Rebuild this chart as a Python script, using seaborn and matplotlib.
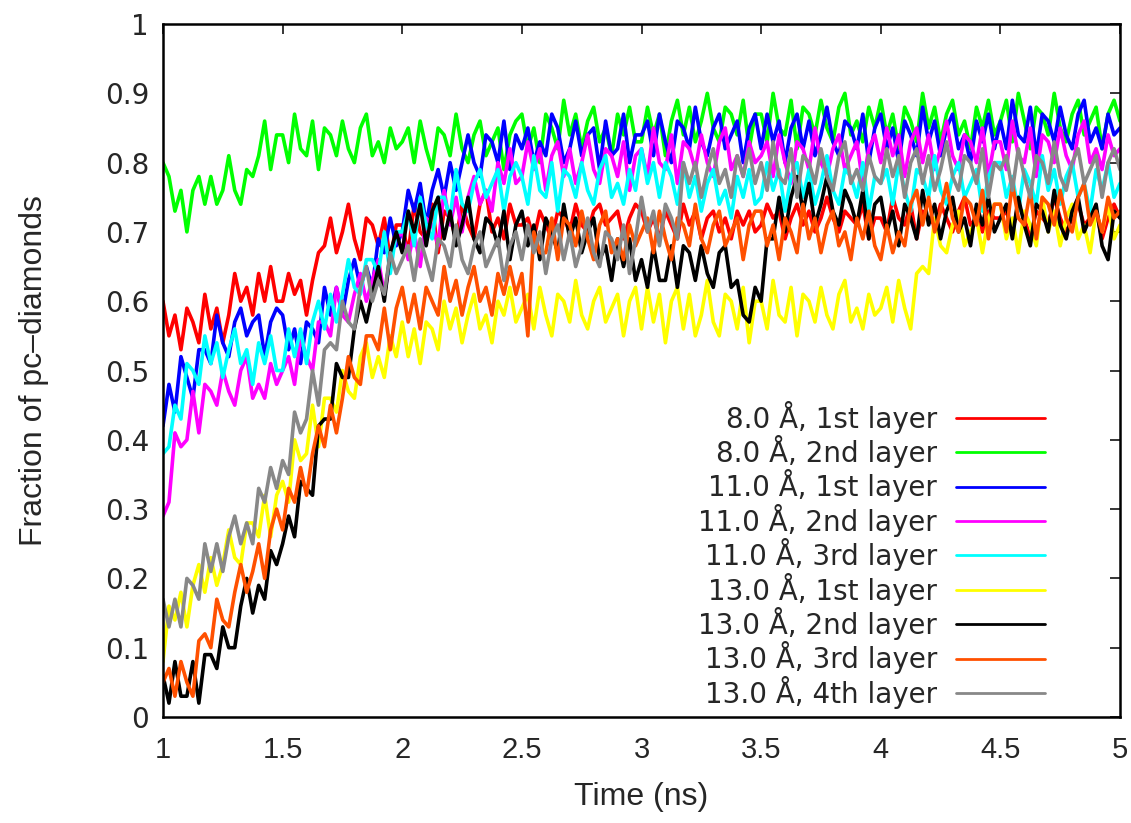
import numpy as np
import pandas as pd
import matplotlib
matplotlib.use('Agg')
import matplotlib.pyplot as plt
import seaborn as sns

# sample times, one frame every 0.025 ns
time_ns = np.linspace(1.0, 5.0, 161)

# fraction of pc-diamonds (one row = 0.5 ns)
frac_8A_1st = [
    0.60, 0.55, 0.58, 0.53, 0.59, 0.57, 0.54, 0.61, 0.56, 0.59, 0.54, 0.58, 0.64, 0.60, 0.62, 0.58, 0.64, 0.60, 0.65, 0.60,
    0.60, 0.64, 0.61, 0.63, 0.58, 0.63, 0.67, 0.68, 0.72, 0.67, 0.70, 0.74, 0.69, 0.66, 0.72, 0.71, 0.68, 0.72, 0.66, 0.71,
    0.71, 0.67, 0.74, 0.70, 0.69, 0.74, 0.67, 0.73, 0.72, 0.69, 0.74, 0.71, 0.69, 0.74, 0.76, 0.70, 0.72, 0.69, 0.74, 0.71,
    0.71, 0.72, 0.69, 0.73, 0.71, 0.69, 0.73, 0.72, 0.70, 0.74, 0.71, 0.70, 0.73, 0.74, 0.71, 0.72, 0.73, 0.69, 0.72, 0.74,
    0.73, 0.70, 0.72, 0.69, 0.73, 0.71, 0.69, 0.74, 0.71, 0.73, 0.69, 0.72, 0.73, 0.70, 0.72, 0.69, 0.73, 0.71, 0.73, 0.70,
    0.71, 0.74, 0.72, 0.73, 0.69, 0.72, 0.74, 0.71, 0.73, 0.70, 0.72, 0.75, 0.72, 0.70, 0.73, 0.72, 0.71, 0.74, 0.69, 0.72,
    0.72, 0.70, 0.75, 0.72, 0.71, 0.74, 0.69, 0.73, 0.72, 0.71, 0.74, 0.72, 0.70, 0.73, 0.75, 0.71, 0.72, 0.70, 0.73, 0.72,
    0.72, 0.73, 0.70, 0.74, 0.72, 0.69, 0.73, 0.72, 0.71, 0.75, 0.72, 0.70, 0.72, 0.74, 0.71, 0.72, 0.73, 0.69, 0.72, 0.74,
    0.72]
frac_8A_2nd = [
    0.80, 0.78, 0.73, 0.76, 0.70, 0.76, 0.78, 0.74, 0.78, 0.74, 0.76, 0.81, 0.76, 0.74, 0.79, 0.78, 0.81, 0.86, 0.79, 0.84,
    0.84, 0.80, 0.87, 0.82, 0.81, 0.86, 0.79, 0.85, 0.84, 0.81, 0.86, 0.82, 0.80, 0.85, 0.87, 0.81, 0.83, 0.80, 0.85, 0.82,
    0.83, 0.85, 0.80, 0.86, 0.82, 0.79, 0.85, 0.84, 0.81, 0.87, 0.82, 0.80, 0.84, 0.86, 0.81, 0.83, 0.85, 0.79, 0.84, 0.86,
    0.87, 0.82, 0.85, 0.80, 0.87, 0.85, 0.82, 0.89, 0.84, 0.87, 0.82, 0.86, 0.88, 0.83, 0.85, 0.81, 0.87, 0.84, 0.88, 0.83,
    0.83, 0.88, 0.84, 0.87, 0.81, 0.86, 0.89, 0.84, 0.88, 0.83, 0.86, 0.90, 0.85, 0.83, 0.88, 0.87, 0.84, 0.89, 0.82, 0.87,
    0.87, 0.83, 0.90, 0.85, 0.84, 0.89, 0.82, 0.88, 0.87, 0.84, 0.89, 0.85, 0.83, 0.88, 0.90, 0.84, 0.86, 0.83, 0.88, 0.85,
    0.89, 0.84, 0.87, 0.82, 0.88, 0.86, 0.83, 0.90, 0.85, 0.88, 0.83, 0.87, 0.89, 0.84, 0.86, 0.82, 0.88, 0.85, 0.89, 0.84,
    0.86, 0.89, 0.83, 0.90, 0.86, 0.82, 0.88, 0.87, 0.84, 0.90, 0.85, 0.83, 0.87, 0.89, 0.84, 0.86, 0.88, 0.82, 0.87, 0.89,
    0.86]
frac_11A_1st = [
    0.42, 0.48, 0.44, 0.52, 0.49, 0.46, 0.53, 0.53, 0.51, 0.58, 0.54, 0.52, 0.57, 0.59, 0.55, 0.57, 0.58, 0.52, 0.57, 0.59,
    0.58, 0.53, 0.56, 0.51, 0.57, 0.56, 0.54, 0.62, 0.58, 0.62, 0.58, 0.63, 0.66, 0.62, 0.65, 0.62, 0.69, 0.67, 0.72, 0.68,
    0.70, 0.76, 0.73, 0.77, 0.71, 0.76, 0.79, 0.75, 0.80, 0.76, 0.80, 0.84, 0.80, 0.78, 0.84, 0.83, 0.80, 0.86, 0.79, 0.84,
    0.82, 0.85, 0.80, 0.83, 0.81, 0.87, 0.85, 0.80, 0.82, 0.86, 0.81, 0.84, 0.85, 0.79, 0.86, 0.81, 0.82, 0.87, 0.80, 0.84,
    0.84, 0.86, 0.81, 0.87, 0.83, 0.80, 0.86, 0.85, 0.82, 0.88, 0.83, 0.81, 0.85, 0.87, 0.82, 0.84, 0.86, 0.80, 0.85, 0.87,
    0.82, 0.87, 0.83, 0.86, 0.80, 0.85, 0.87, 0.82, 0.86, 0.81, 0.84, 0.88, 0.83, 0.81, 0.86, 0.85, 0.82, 0.87, 0.80, 0.85,
    0.87, 0.82, 0.85, 0.80, 0.86, 0.84, 0.81, 0.88, 0.83, 0.86, 0.81, 0.85, 0.87, 0.82, 0.84, 0.80, 0.86, 0.83, 0.87, 0.82,
    0.86, 0.82, 0.89, 0.84, 0.83, 0.88, 0.81, 0.87, 0.86, 0.83, 0.88, 0.84, 0.82, 0.87, 0.89, 0.83, 0.85, 0.82, 0.87, 0.84,
    0.85]
frac_11A_2nd = [
    0.29, 0.31, 0.41, 0.39, 0.40, 0.47, 0.41, 0.48, 0.47, 0.45, 0.50, 0.47, 0.45, 0.50, 0.52, 0.46, 0.48, 0.46, 0.51, 0.48,
    0.50, 0.52, 0.48, 0.55, 0.52, 0.50, 0.57, 0.57, 0.55, 0.62, 0.58, 0.57, 0.61, 0.64, 0.60, 0.63, 0.66, 0.61, 0.66, 0.69,
    0.70, 0.66, 0.70, 0.65, 0.72, 0.71, 0.68, 0.76, 0.71, 0.75, 0.70, 0.75, 0.78, 0.74, 0.76, 0.73, 0.80, 0.77, 0.82, 0.77,
    0.78, 0.83, 0.79, 0.82, 0.76, 0.81, 0.83, 0.78, 0.82, 0.77, 0.80, 0.84, 0.79, 0.77, 0.82, 0.81, 0.78, 0.83, 0.76, 0.81,
    0.82, 0.78, 0.85, 0.80, 0.79, 0.84, 0.77, 0.83, 0.82, 0.79, 0.84, 0.80, 0.78, 0.83, 0.85, 0.79, 0.81, 0.78, 0.83, 0.80,
    0.81, 0.83, 0.78, 0.84, 0.80, 0.77, 0.83, 0.82, 0.79, 0.85, 0.80, 0.78, 0.82, 0.84, 0.79, 0.81, 0.83, 0.77, 0.82, 0.84,
    0.80, 0.85, 0.81, 0.84, 0.78, 0.83, 0.85, 0.80, 0.84, 0.79, 0.82, 0.86, 0.81, 0.79, 0.84, 0.83, 0.80, 0.85, 0.78, 0.83,
    0.83, 0.79, 0.86, 0.81, 0.80, 0.85, 0.78, 0.84, 0.83, 0.80, 0.85, 0.81, 0.79, 0.84, 0.86, 0.80, 0.82, 0.79, 0.84, 0.81,
    0.82]
frac_11A_3rd = [
    0.38, 0.39, 0.45, 0.43, 0.51, 0.50, 0.48, 0.55, 0.51, 0.54, 0.49, 0.53, 0.56, 0.51, 0.53, 0.48, 0.54, 0.51, 0.55, 0.50,
    0.50, 0.56, 0.52, 0.56, 0.51, 0.57, 0.60, 0.56, 0.61, 0.57, 0.61, 0.66, 0.62, 0.61, 0.66, 0.66, 0.64, 0.70, 0.64, 0.70,
    0.70, 0.73, 0.68, 0.75, 0.71, 0.69, 0.75, 0.75, 0.72, 0.79, 0.74, 0.73, 0.77, 0.79, 0.75, 0.77, 0.79, 0.73, 0.78, 0.80,
    0.78, 0.74, 0.81, 0.76, 0.75, 0.80, 0.73, 0.79, 0.78, 0.75, 0.80, 0.76, 0.74, 0.79, 0.81, 0.75, 0.77, 0.74, 0.79, 0.76,
    0.82, 0.77, 0.80, 0.75, 0.80, 0.78, 0.74, 0.80, 0.75, 0.78, 0.73, 0.77, 0.79, 0.74, 0.76, 0.72, 0.78, 0.75, 0.79, 0.74,
    0.75, 0.80, 0.76, 0.79, 0.73, 0.78, 0.80, 0.75, 0.79, 0.74, 0.77, 0.81, 0.76, 0.74, 0.79, 0.78, 0.75, 0.80, 0.73, 0.78,
    0.77, 0.79, 0.74, 0.80, 0.76, 0.73, 0.79, 0.78, 0.75, 0.81, 0.76, 0.74, 0.78, 0.80, 0.75, 0.77, 0.79, 0.73, 0.78, 0.80,
    0.80, 0.75, 0.78, 0.73, 0.79, 0.77, 0.74, 0.81, 0.76, 0.79, 0.74, 0.78, 0.80, 0.75, 0.77, 0.73, 0.79, 0.76, 0.80, 0.75,
    0.77]
frac_13A_1st = [
    0.08, 0.16, 0.14, 0.18, 0.13, 0.19, 0.22, 0.18, 0.23, 0.19, 0.22, 0.27, 0.23, 0.22, 0.28, 0.28, 0.26, 0.32, 0.26, 0.32,
    0.34, 0.31, 0.40, 0.37, 0.38, 0.45, 0.39, 0.46, 0.46, 0.44, 0.50, 0.47, 0.46, 0.52, 0.54, 0.49, 0.52, 0.49, 0.55, 0.52,
    0.57, 0.52, 0.56, 0.51, 0.57, 0.56, 0.53, 0.60, 0.56, 0.59, 0.54, 0.58, 0.61, 0.56, 0.58, 0.54, 0.60, 0.58, 0.62, 0.57,
    0.59, 0.61, 0.56, 0.62, 0.58, 0.55, 0.61, 0.60, 0.57, 0.63, 0.58, 0.56, 0.60, 0.62, 0.57, 0.59, 0.61, 0.55, 0.60, 0.62,
    0.56, 0.62, 0.57, 0.61, 0.54, 0.60, 0.62, 0.56, 0.61, 0.55, 0.58, 0.63, 0.57, 0.55, 0.61, 0.60, 0.56, 0.62, 0.54, 0.60,
    0.60, 0.56, 0.63, 0.58, 0.57, 0.62, 0.55, 0.61, 0.60, 0.57, 0.62, 0.58, 0.56, 0.61, 0.63, 0.57, 0.59, 0.56, 0.61, 0.58,
    0.59, 0.62, 0.57, 0.63, 0.59, 0.56, 0.64, 0.65, 0.64, 0.72, 0.68, 0.67, 0.71, 0.73, 0.68, 0.70, 0.72, 0.67, 0.72, 0.74,
    0.74, 0.69, 0.72, 0.67, 0.73, 0.71, 0.68, 0.75, 0.70, 0.73, 0.68, 0.72, 0.74, 0.69, 0.71, 0.67, 0.73, 0.70, 0.74, 0.69,
    0.71]
frac_13A_2nd = [
    0.06, 0.02, 0.08, 0.03, 0.03, 0.08, 0.02, 0.09, 0.09, 0.07, 0.13, 0.10, 0.10, 0.16, 0.20, 0.15, 0.19, 0.17, 0.24, 0.22,
    0.25, 0.29, 0.26, 0.34, 0.33, 0.32, 0.42, 0.43, 0.43, 0.51, 0.49, 0.49, 0.56, 0.60, 0.57, 0.61, 0.65, 0.60, 0.67, 0.70,
    0.67, 0.73, 0.70, 0.74, 0.68, 0.73, 0.75, 0.69, 0.73, 0.68, 0.71, 0.75, 0.69, 0.67, 0.72, 0.71, 0.68, 0.73, 0.66, 0.71,
    0.73, 0.68, 0.71, 0.66, 0.72, 0.70, 0.67, 0.74, 0.69, 0.72, 0.67, 0.70, 0.72, 0.66, 0.68, 0.63, 0.69, 0.65, 0.69, 0.63,
    0.66, 0.62, 0.68, 0.63, 0.63, 0.68, 0.62, 0.68, 0.67, 0.63, 0.68, 0.64, 0.62, 0.67, 0.68, 0.62, 0.63, 0.58, 0.57, 0.62,
    0.60, 0.69, 0.69, 0.75, 0.70, 0.75, 0.78, 0.73, 0.77, 0.71, 0.74, 0.78, 0.73, 0.71, 0.76, 0.74, 0.71, 0.76, 0.69, 0.74,
    0.75, 0.70, 0.73, 0.68, 0.74, 0.72, 0.69, 0.76, 0.71, 0.74, 0.69, 0.73, 0.75, 0.70, 0.72, 0.68, 0.74, 0.71, 0.75, 0.70,
    0.72, 0.74, 0.69, 0.75, 0.71, 0.68, 0.74, 0.73, 0.70, 0.76, 0.71, 0.69, 0.73, 0.75, 0.70, 0.72, 0.74, 0.68, 0.66, 0.73,
    0.72]
frac_13A_3rd = [
    0.05, 0.07, 0.03, 0.08, 0.05, 0.03, 0.11, 0.12, 0.10, 0.17, 0.14, 0.13, 0.18, 0.22, 0.18, 0.21, 0.25, 0.20, 0.27, 0.30,
    0.27, 0.33, 0.31, 0.36, 0.32, 0.38, 0.42, 0.39, 0.45, 0.41, 0.46, 0.52, 0.49, 0.48, 0.55, 0.55, 0.53, 0.59, 0.53, 0.59,
    0.62, 0.57, 0.61, 0.56, 0.62, 0.60, 0.58, 0.65, 0.60, 0.63, 0.58, 0.62, 0.65, 0.60, 0.62, 0.58, 0.64, 0.61, 0.65, 0.61,
    0.64, 0.55, 0.70, 0.67, 0.67, 0.72, 0.66, 0.72, 0.71, 0.68, 0.73, 0.69, 0.66, 0.71, 0.73, 0.67, 0.69, 0.66, 0.71, 0.68,
    0.70, 0.72, 0.67, 0.73, 0.69, 0.66, 0.72, 0.71, 0.68, 0.74, 0.69, 0.67, 0.71, 0.73, 0.68, 0.70, 0.72, 0.66, 0.71, 0.73,
    0.73, 0.68, 0.71, 0.66, 0.72, 0.70, 0.67, 0.74, 0.69, 0.72, 0.67, 0.71, 0.73, 0.68, 0.70, 0.66, 0.72, 0.69, 0.73, 0.68,
    0.66, 0.71, 0.67, 0.70, 0.68, 0.74, 0.76, 0.71, 0.75, 0.70, 0.73, 0.77, 0.72, 0.70, 0.75, 0.74, 0.71, 0.76, 0.69, 0.74,
    0.74, 0.70, 0.77, 0.72, 0.71, 0.76, 0.69, 0.75, 0.74, 0.71, 0.76, 0.72, 0.70, 0.75, 0.77, 0.71, 0.73, 0.70, 0.75, 0.72,
    0.73]
frac_13A_4th = [
    0.17, 0.13, 0.17, 0.13, 0.20, 0.19, 0.17, 0.25, 0.21, 0.25, 0.21, 0.26, 0.29, 0.25, 0.28, 0.25, 0.33, 0.31, 0.36, 0.33,
    0.37, 0.35, 0.44, 0.41, 0.43, 0.50, 0.45, 0.53, 0.54, 0.53, 0.60, 0.57, 0.56, 0.62, 0.65, 0.60, 0.63, 0.61, 0.67, 0.64,
    0.66, 0.68, 0.63, 0.69, 0.66, 0.63, 0.69, 0.68, 0.65, 0.71, 0.66, 0.64, 0.68, 0.70, 0.65, 0.67, 0.69, 0.63, 0.68, 0.70,
    0.66, 0.71, 0.67, 0.70, 0.64, 0.69, 0.71, 0.66, 0.70, 0.65, 0.68, 0.72, 0.67, 0.65, 0.70, 0.69, 0.66, 0.71, 0.64, 0.69,
    0.75, 0.70, 0.73, 0.68, 0.74, 0.72, 0.69, 0.80, 0.77, 0.80, 0.75, 0.79, 0.82, 0.77, 0.79, 0.75, 0.81, 0.78, 0.82, 0.77,
    0.80, 0.76, 0.83, 0.78, 0.77, 0.82, 0.75, 0.81, 0.80, 0.77, 0.82, 0.78, 0.76, 0.81, 0.83, 0.77, 0.79, 0.76, 0.81, 0.78,
    0.77, 0.82, 0.78, 0.81, 0.75, 0.80, 0.82, 0.77, 0.81, 0.76, 0.79, 0.83, 0.78, 0.76, 0.81, 0.80, 0.77, 0.82, 0.75, 0.80,
    0.79, 0.81, 0.76, 0.82, 0.78, 0.75, 0.81, 0.80, 0.77, 0.83, 0.78, 0.76, 0.80, 0.82, 0.77, 0.79, 0.81, 0.75, 0.80, 0.82,
    0.79]

series_labels = [
    '8.0 Å, 1st layer', '8.0 Å, 2nd layer',
    '11.0 Å, 1st layer', '11.0 Å, 2nd layer', '11.0 Å, 3rd layer',
    '13.0 Å, 1st layer', '13.0 Å, 2nd layer', '13.0 Å, 3rd layer', '13.0 Å, 4th layer',
]
series_values = [
    frac_8A_1st, frac_8A_2nd,
    frac_11A_1st, frac_11A_2nd, frac_11A_3rd,
    frac_13A_1st, frac_13A_2nd, frac_13A_3rd, frac_13A_4th,
]
series_colors = ['#ff0000', '#00ff00', '#0000ff', '#ff00ff', '#00ffff',
                 '#ffff00', '#000000', '#ff5000', '#888888']

x_ticks = [1, 1.5, 2, 2.5, 3, 3.5, 4, 4.5, 5]
x_tick_labels = ['1', '1.5', '2', '2.5', '3', '3.5', '4', '4.5', '5']
y_ticks = [0, 0.1, 0.2, 0.3, 0.4, 0.5, 0.6, 0.7, 0.8, 0.9, 1]
y_tick_labels = ['0', '0.1', '0.2', '0.3', '0.4', '0.5', '0.6', '0.7', '0.8', '0.9', '1']

df = pd.concat(
    [pd.DataFrame({'time': time_ns, 'fraction': vals, 'series': lab})
     for lab, vals in zip(series_labels, series_values)],
    ignore_index=True)

sns.set_style('white')
plt.rcParams['font.family'] = ['DejaVu Sans']

fig = plt.figure(figsize=(11.31, 8.23), dpi=100)
ax = fig.add_axes([0.1441, 0.1288, 0.8462, 0.842])

sns.lineplot(data=df, x='time', y='fraction', hue='series',
             hue_order=series_labels, palette=series_colors,
             estimator=None, sort=False, lw=2.6, ax=ax)

ax.set_xlim(1, 5)
ax.set_ylim(0, 1)
ax.set_xticks(x_ticks)
ax.set_xticklabels(x_tick_labels, family='Liberation Sans', fontsize=21)
ax.set_yticks(y_ticks)
ax.set_yticklabels(y_tick_labels, fontsize=20)
ax.tick_params(direction='in', length=7, width=1.3, top=True, right=True, pad=10)
ax.tick_params(axis='x', pad=14)
for sp in ax.spines.values():
    sp.set_linewidth(1.8)
    sp.set_color('black')

ax.set_xlabel('Time (ns)', family='Liberation Sans', fontsize=23, labelpad=13)
ax.set_ylabel('Fraction of pc\u2013diamonds', family='Liberation Sans',
              fontsize=23, labelpad=40)

# gnuplot-style key: text right-aligned, line sample on the right
handles, labels = ax.get_legend_handles_labels()
leg = ax.legend(handles, labels, markerfirst=False, frameon=False,
                loc='lower right', bbox_to_anchor=(0.922, 0.012),
                fontsize=20, handlelength=3.2, handletextpad=0.7,
                labelspacing=0.05, borderpad=0, borderaxespad=0)
for ln in leg.get_lines():
    ln.set_linewidth(2.0)

fig.savefig('out.png', dpi=100)
